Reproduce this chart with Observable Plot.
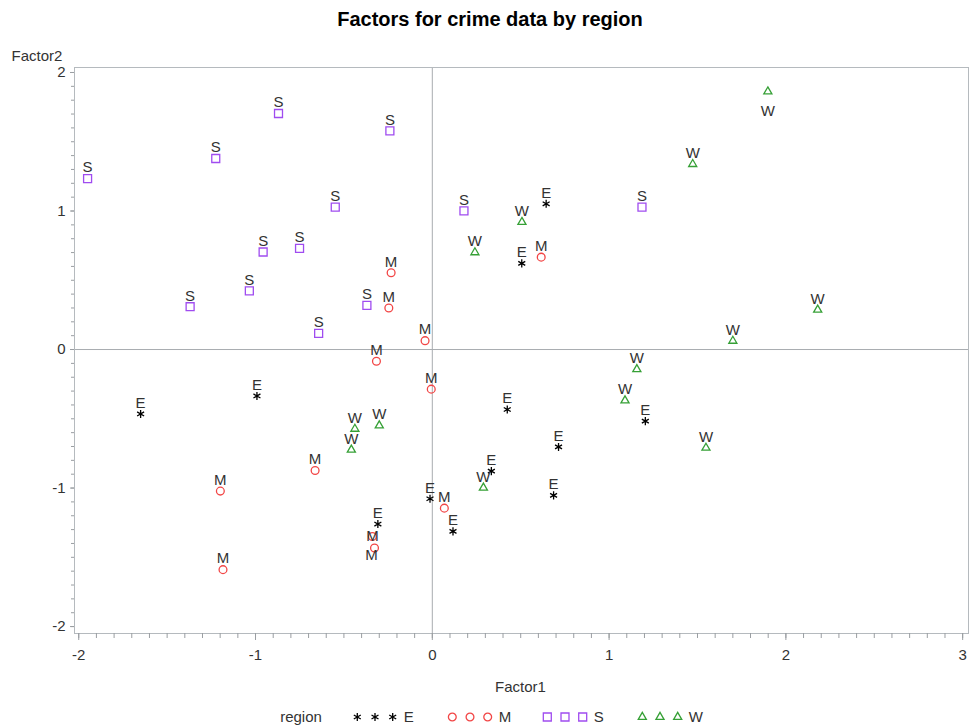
<!DOCTYPE html>
<html><head><meta charset="utf-8">
<script src="https://cdn.jsdelivr.net/npm/d3@7"></script>
<script src="https://cdn.jsdelivr.net/npm/@observablehq/plot@0.6"></script>
<style>
body{margin:0;background:#fff;font-family:"Liberation Sans",Arial,sans-serif;}
#wrap{position:relative;width:972px;height:728px;overflow:hidden;}
#title{position:absolute;left:0;width:980px;top:9px;text-align:center;font:bold 20px "Liberation Sans",Arial,sans-serif;line-height:20px;color:#000;}
#chart{position:absolute;left:0;top:36px;}
#legend{position:absolute;left:0;top:705px;}
</style></head><body>
<div id="wrap">
<div id="title">Factors for crime data by region</div>
<div id="chart"></div>
<svg id="legend" width="972" height="23"></svg>
</div>
<script>
// ---- data ----
const regions = ["E", "M", "S", "W"];
const eastF1 = [-1.65, -0.992, -0.308, -0.013, 0.117, 0.644, 0.506, 0.424, 0.714, 0.334, 0.686, 1.205];
const eastF2 = [-0.465, -0.335, -1.26, -1.077, -1.313, 1.052, 0.622, -0.433, -0.703, -0.878, -1.053, -0.517];
const midF1 = [-0.233, -0.246, -0.041, -0.316, -0.006, -0.663, -1.199, -1.184, 0.068, -0.339, -0.327, 0.616];
const midF2 = [0.554, 0.3, 0.064, -0.085, -0.286, -0.873, -1.022, -1.589, -1.145, -1.35, -1.433, 0.667];
const southF1 = [-1.95, -1.225, -0.87, -0.24, -0.549, -0.957, -0.751, -1.035, -1.37, -0.37, -0.643, 0.179, 1.186];
const southF2 = [1.234, 1.379, 1.704, 1.578, 1.028, 0.704, 0.73, 0.424, 0.309, 0.319, 0.117, 1.001, 1.028];
const westF1 = [1.898, 1.473, 0.507, 2.18, 1.70, 0.241, 1.157, 1.09, 1.548, 0.289, -0.438, -0.30, -0.458];
const westF2 = [1.862, 1.338, 0.92, 0.287, 0.062, 0.701, -0.143, -0.368, -0.71, -0.998, -0.573, -0.549, -0.724];
const xTicks = [-2, -1, 0, 1, 2, 3];
const yTicks = [-2, -1, 0, 1, 2];
const xLabel = "Factor1", yLabel = "Factor2", legendTitle = "region";

// ---- styles ----
const colors = {E: "#000000", M: "#f24646", S: "#a04cf0", W: "#36a036"};
const symbols = {E: "asterisk", M: "circle", S: "square", W: "triangle"};
const radius = {E: 3.8, M: 3.9, S: 4.5, W: 3.0};
const FONT = '"Liberation Sans", Arial, sans-serif';
const TEXT = "#333333";

const rows = [];
[[eastF1, eastF2], [midF1, midF2], [southF1, southF2], [westF1, westF2]].forEach(([a, b], k) =>
  a.forEach((v, i) => rows.push({region: regions[k], id: regions[k] + i, f1: v, f2: b[i]})));

// label placement exceptions (collision handling, as in the reference)
const below = new Set(["W0"]);
const onTop = new Set(["M9"]);
const belowLeft = new Set(["M10"]);
const normal = rows.filter(d => !below.has(d.id) && !onTop.has(d.id) && !belowLeft.has(d.id));

const minorX = d3.range(-20, 31).map(k => k / 10);
const minorY = d3.range(-20, 21).map(k => k / 10);
const lab = {text: "region", x: "f1", y: "f2", fill: TEXT, fontSize: 15, fontFamily: FONT};

const plot = Plot.plot({
  width: 972, height: 670,
  marginLeft: 74, marginRight: 4, marginTop: 31, marginBottom: 73,
  style: {fontFamily: FONT, fontSize: "15px", color: TEXT, background: "white"},
  x: {domain: [-2.024, 3.033], label: null},
  y: {domain: [-2.05, 2.036], label: null},
  marks: [
    Plot.ruleX([0], {stroke: "#a8acb0"}),
    Plot.ruleY([0], {stroke: "#a8acb0"}),
    Plot.frame({stroke: "#b5babe"}),
    Plot.axisX(minorX, {tickSize: 5, fill: "none", stroke: "#9a9ea2", label: null}),
    Plot.axisX(xTicks, {tickSize: 7, tickPadding: 9, stroke: "#9a9ea2", fill: TEXT, fontSize: 15, label: null, tickFormat: d => String(d)}),
    Plot.axisY(minorY, {tickSize: 3, fill: "none", stroke: "#9a9ea2", label: null}),
    Plot.axisY(yTicks, {tickSize: 4, tickPadding: 5, stroke: "#9a9ea2", fill: TEXT, fontSize: 15, label: null, tickFormat: d => String(d)}),
    Plot.text([yLabel], {text: d => d, frameAnchor: "top-left", lineAnchor: "middle", textAnchor: "start", dx: -63, dy: -11, fill: TEXT, fontSize: 15}),
    Plot.text([xLabel], {text: d => d, frameAnchor: "bottom", lineAnchor: "middle", dx: -1, dy: 54, fill: TEXT, fontSize: 15}),
    ...regions.map(r => Plot.dot(rows.filter(d => d.region === r), {
      x: "f1", y: "f2", symbol: symbols[r], r: radius[r], stroke: colors[r], fill: "none", strokeWidth: 1.3
    })),
    Plot.text(normal, {...lab, dy: -11}),
    Plot.text(rows.filter(d => below.has(d.id)), {...lab, dy: 20}),
    Plot.text(rows.filter(d => onTop.has(d.id)), {...lab, dy: 0}),
    Plot.text(rows.filter(d => belowLeft.has(d.id)), {...lab, dy: 7, dx: -3})
  ]
});
document.getElementById("chart").appendChild(plot);

// ---- legend ----
const leg = d3.select("#legend");
const cy = 12;
leg.append("text").attr("x", 301).attr("y", cy + 5.3).attr("text-anchor", "middle")
  .attr("font-family", FONT).attr("font-size", 15).attr("fill", TEXT).text(legendTitle);
const d3sym = {asterisk: d3.symbolAsterisk, circle: d3.symbolCircle, square: d3.symbolSquare, triangle: d3.symbolTriangle};
regions.forEach((r, i) => {
  const x0 = 357.3 + i * 95;
  const path = d3.symbol(d3sym[symbols[r]], Math.PI * radius[r] * radius[r])();
  for (let j = 0; j < 3; j++) {
    leg.append("path").attr("d", path).attr("transform", `translate(${x0 + j * 17.7},${cy})`)
      .attr("fill", "none").attr("stroke", colors[r]).attr("stroke-width", 1.3);
  }
  leg.append("text").attr("x", x0 + 46.5).attr("y", cy + 5.3).attr("font-family", FONT)
    .attr("font-size", 15).attr("fill", TEXT).text(r);
});
</script>
</body></html>
